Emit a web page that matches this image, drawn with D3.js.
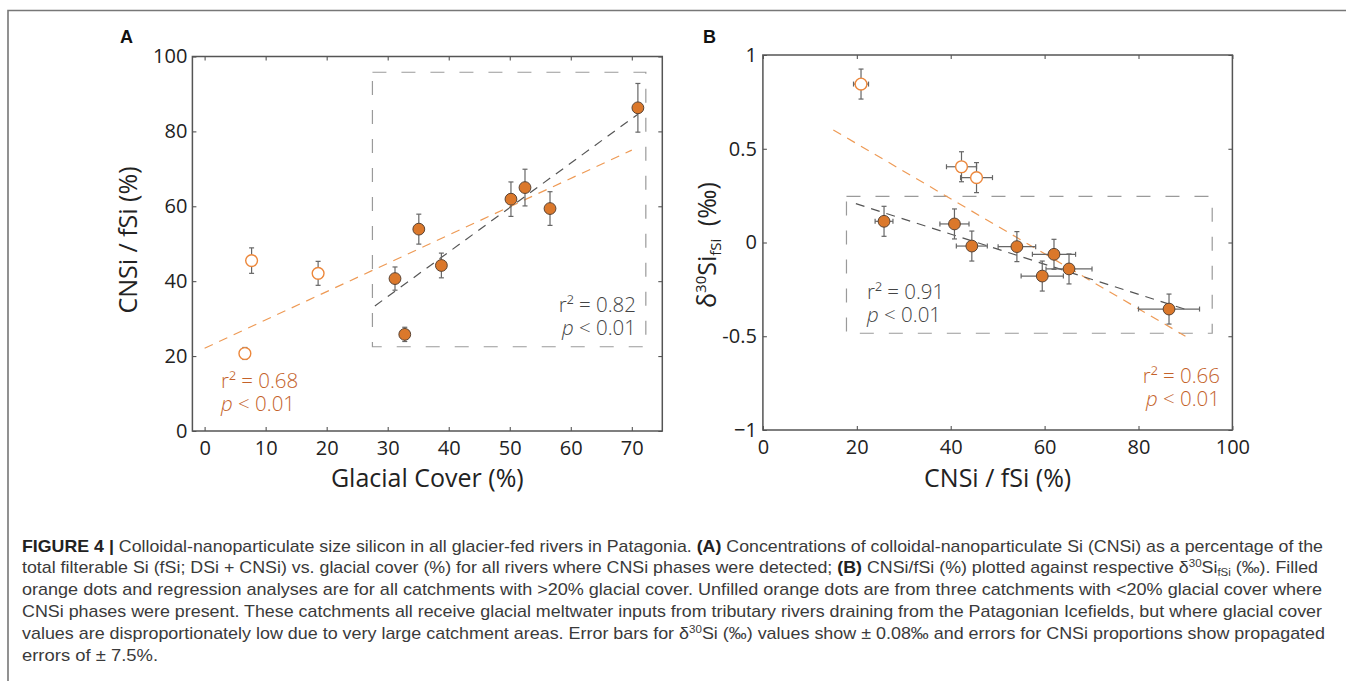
<!DOCTYPE html>
<html>
<head>
<meta charset="utf-8">
<script src="https://cdn.jsdelivr.net/npm/d3@7"></script>
<style>
  body { margin: 0; background: #fff; }
  svg { display: block; }
  .tick text { font-family: 'Open Sans', sans-serif; font-size: 20px; fill: #222; }
  .tick line { stroke: #444; stroke-width: 1; }
  .axis-title { font-family: 'Open Sans', sans-serif; font-size: 25px; fill: #222; }
  .note { font-family: 'Open Sans', sans-serif; font-size: 20.5px; font-weight: 300; }
  .caption { font-family: 'Liberation Sans Narrow', 'Liberation Sans', Arial, sans-serif; font-size: 17px; fill: #3a3a3a; }
</style>
</head>
<body>
<svg id="fig" width="1346" height="681"></svg>
<script>
// ---- panel A: glacial cover vs CNSi / fSi ----
const coverA = [7.7, 18.6, 6.6, 31.2, 32.8, 35.1, 38.8, 50.2, 52.5, 56.6, 71.0];
const cnsiA = [45.5, 42.1, 20.7, 40.7, 25.8, 53.9, 44.2, 61.9, 65.0, 59.4, 86.3];
const cnsiErrA = [3.4, 3.2, 1.6, 3.1, 1.9, 4.0, 3.3, 4.6, 4.9, 4.5, 6.5];
const filledA = [false, false, false, true, true, true, true, true, true, true, true];

const fitAllA = {x: [0, 70], y: [22.1, 75.0]};
const fitGlacA = {x: [27.9, 71.0], y: [33.4, 84.6]};
const boxA = {x: [27.5, 72.3], y: [22.5, 95.8]};
const ticksXA = [0, 10, 20, 30, 40, 50, 60, 70];
const ticksYA = [0, 20, 40, 60, 80, 100];

// ---- panel B: CNSi / fSi vs d30Si ----
const cnsiB = [20.9, 42.3, 45.5, 25.8, 40.8, 44.5, 54.1, 62.0, 59.5, 65.2, 86.5];
const cnsiErrB = [1.6, 3.2, 3.4, 1.9, 3.1, 3.3, 4.0, 4.6, 4.5, 4.9, 6.5];
const deltaB = [0.845, 0.404, 0.346, 0.113, 0.099, -0.019, -0.022, -0.063, -0.179, -0.141, -0.355];
const deltaErrB = [0.08, 0.08, 0.08, 0.08, 0.08, 0.08, 0.08, 0.08, 0.08, 0.08, 0.08];
const filledB = [false, false, false, true, true, true, true, true, true, true, true];

const fitAllB = {x: [15.0, 90.0], y: [0.60, -0.50]};
const fitGlacB = {x: [19.8, 89.8], y: [0.207, -0.355]};
const boxB = {x: [17.8, 95.7], y: [-0.484, 0.246]};
const ticksXB = [0, 20, 40, 60, 80, 100];
const ticksYB = [-1, -0.5, 0, 0.5, 1];
const tickLabelsYB = ['\u22121', '-0.5', '0', '0.5', '1'];

const orange = '#db782b', orangeText = '#c4622a', orangeLine = '#ee9a55';
const grey = '#555';

const svg = d3.select('#fig');

// outer figure frame (runs off the right and bottom)
svg.append('path')
   .attr('d', 'M8,681 L8,10.5 L1346,10.5')
   .attr('fill', 'none').attr('stroke', '#777').attr('stroke-width', 1.6);

function drawPanel(opt) {
  const {left, right, top, bottom} = opt.box;
  const x = d3.scaleLinear().domain(opt.xDomain).range([left, right]);
  const y = d3.scaleLinear().domain(opt.yDomain).range([bottom, top]);
  const g = svg.append('g');

  g.append('g').attr('transform', `translate(0,${bottom})`)
   .call(d3.axisBottom(x).tickValues(opt.xTicks).tickSize(-4).tickPadding(10).tickFormat(d3.format('d')));
  g.append('g').attr('transform', `translate(0,${top})`)
   .call(d3.axisTop(x).tickValues(opt.xTicks).tickSize(-4).tickFormat(''));
  g.append('g').attr('transform', `translate(${left},0)`)
   .call(d3.axisLeft(y).tickValues(opt.yTicks).tickSize(-4).tickPadding(opt.yPad)
     .tickFormat((d, i) => opt.yLabels ? opt.yLabels[i] : d));
  g.append('g').attr('transform', `translate(${right},0)`)
   .call(d3.axisRight(y).tickValues(opt.yTicks).tickSize(-4).tickFormat(''));
  g.selectAll('.domain').remove();

  g.append('rect')
   .attr('x', left).attr('y', top).attr('width', right - left).attr('height', bottom - top)
   .attr('fill', 'none').attr('stroke', grey).attr('stroke-width', 1.5);

  // dashed selection box
  g.append('rect')
   .attr('x', x(opt.sel.x[0])).attr('y', y(opt.sel.y[1]))
   .attr('width', x(opt.sel.x[1]) - x(opt.sel.x[0]))
   .attr('height', y(opt.sel.y[0]) - y(opt.sel.y[1]))
   .attr('fill', 'none').attr('stroke', '#9a9a9a').attr('stroke-width', 1.2)
   .attr('stroke-dasharray', '14,15');

  // regression lines
  const line = d3.line().x(d => x(d[0])).y(d => y(d[1]));
  [[opt.fitAll, orangeLine], [opt.fitGlac, '#555']].forEach(([f, c]) => {
    g.append('path')
     .attr('d', line(d3.zip(f.x, f.y)))
     .attr('fill', 'none').attr('stroke', c).attr('stroke-width', 1.2)
     .attr('stroke-dasharray', '9,7');
  });

  // error bars
  const eb = g.append('g').attr('stroke', '#666').attr('stroke-width', 1.2);
  opt.xs.forEach((xv, i) => {
    const cx = x(xv), cy = y(opt.ys[i]);
    const yLo = y(opt.ys[i] - opt.yErr[i]), yHi = y(opt.ys[i] + opt.yErr[i]);
    eb.append('line').attr('x1', cx).attr('x2', cx).attr('y1', yLo).attr('y2', yHi);
    eb.append('line').attr('x1', cx - 2.5).attr('x2', cx + 2.5).attr('y1', yLo).attr('y2', yLo);
    eb.append('line').attr('x1', cx - 2.5).attr('x2', cx + 2.5).attr('y1', yHi).attr('y2', yHi);
    if (opt.xErr) {
      const xLo = x(xv - opt.xErr[i]), xHi = x(xv + opt.xErr[i]);
      eb.append('line').attr('x1', xLo).attr('x2', xHi).attr('y1', cy).attr('y2', cy);
      eb.append('line').attr('x1', xLo).attr('x2', xLo).attr('y1', cy - 2.5).attr('y2', cy + 2.5);
      eb.append('line').attr('x1', xHi).attr('x2', xHi).attr('y1', cy - 2.5).attr('y2', cy + 2.5);
    }
  });

  // markers
  g.append('g').selectAll('circle')
   .data(d3.range(opt.xs.length))
   .join('circle')
   .attr('cx', i => x(opt.xs[i])).attr('cy', i => y(opt.ys[i])).attr('r', 5.9)
   .attr('fill', i => opt.filled[i] ? orange : '#fff')
   .attr('stroke', i => opt.filled[i] ? '#5a4333' : '#ec873b')
   .attr('stroke-width', i => opt.filled[i] ? 1 : 1.4);

  // panel letter
  svg.append('text').attr('x', opt.letterX).attr('y', 43)
     .attr('font-family', 'Liberation Sans, Arial, sans-serif').attr('font-weight', 'bold')
     .attr('font-size', 18).attr('fill', '#111').text(opt.letter);

  // axis titles
  svg.append('text').attr('class', 'axis-title')
     .attr('x', (left + right) / 2).attr('y', 487).attr('text-anchor', 'middle')
     .text(opt.xTitle);
  const yt = svg.append('text').attr('class', 'axis-title')
     .attr('text-anchor', 'middle')
     .attr('transform', `translate(${opt.yTitleX},${opt.yTitleY}) rotate(-90)`);
  opt.yTitle(yt);

  // r2 / p notes, two lines in one text element
  opt.notes.forEach(n => {
    const t = svg.append('text').attr('class', 'note').attr('fill', n.color)
       .attr('x', n.x).attr('y', n.y).attr('text-anchor', n.anchor);
    t.append('tspan').text('r\u00b2 = ' + n.r2);
    t.append('tspan').attr('x', n.x).attr('dy', 23).attr('font-style', 'italic').text('p');
    t.append('tspan').text(' < 0.01');
  });
}

drawPanel({
  box: {left: 192.4, right: 662.3, top: 56.5, bottom: 431},
  xDomain: [-2, 75], yDomain: [0, 100],
  xTicks: ticksXA, yTicks: ticksYA, yPad: 5,
  xs: coverA, ys: cnsiA, yErr: cnsiErrA, filled: filledA,
  fitAll: fitAllA, fitGlac: fitGlacA, sel: boxA,
  letter: 'A', letterX: 120,
  xTitle: 'Glacial Cover (%)',
  yTitleX: 137, yTitleY: 240,
  yTitle: t => t.text('CNSi / fSi (%)'),
  notes: [
    {x: 636, y: 312, anchor: 'end', color: '#444', r2: '0.82'},
    {x: 221, y: 388, anchor: 'start', color: orangeText, r2: '0.68'}
  ]
});

drawPanel({
  box: {left: 762.9, right: 1232.4, top: 55, bottom: 430},
  xDomain: [0, 100], yDomain: [-1, 1],
  xTicks: ticksXB, yTicks: ticksYB, yLabels: tickLabelsYB, yPad: 6,
  xs: cnsiB, ys: deltaB, yErr: deltaErrB, xErr: cnsiErrB, filled: filledB,
  fitAll: fitAllB, fitGlac: fitGlacB, sel: boxB,
  letter: 'B', letterX: 703,
  xTitle: 'CNSi / fSi (%)',
  yTitleX: 716, yTitleY: 245,
  yTitle: t => {
    t.append('tspan').text('\u03b4');
    t.append('tspan').attr('font-size', 15).attr('dy', -10).text('30');
    t.append('tspan').attr('dy', 10).text('Si');
    t.append('tspan').attr('font-size', 15).attr('dy', 5).text('fSi');
    t.append('tspan').attr('dy', -5).text('\u2002(\u2030)');
  },
  notes: [
    {x: 867, y: 299, anchor: 'start', color: '#444', r2: '0.91'},
    {x: 1220, y: 383, anchor: 'end', color: orangeText, r2: '0.66'}
  ]
});

// ---- caption ----
const captionLines = [
  [['FIGURE 4 | ', 'b'], ['Colloidal-nanoparticulate size silicon in all glacier-fed rivers in Patagonia. ', ''], ['(A)', 'b'], [' Concentrations of colloidal-nanoparticulate Si (CNSi) as a percentage of the', '']],
  [['total filterable Si (fSi; DSi + CNSi) vs. glacial cover (%) for all rivers where CNSi phases were detected; ', ''], ['(B)', 'b'], [' CNSi/fSi (%) plotted against respective \u03b4', ''], ['30', 'sup'], ['Si', ''], ['fSi', 'sub'], [' (\u2030). Filled', '']],
  [['orange dots and regression analyses are for all catchments with >20% glacial cover. Unfilled orange dots are from three catchments with <20% glacial cover where', '']],
  [['CNSi phases were present. These catchments all receive glacial meltwater inputs from tributary rivers draining from the Patagonian Icefields, but where glacial cover', '']],
  [['values are disproportionately low due to very large catchment areas. Error bars for \u03b4', ''], ['30', 'sup'], ['Si (\u2030) values show \u00b1 0.08\u2030 and errors for CNSi proportions show propagated', '']],
  [['errors of \u00b1 7.5%.', '']]
];
const captionWidths = [1301, 1296, 1300, 1300, 1303, 136];

captionLines.forEach((segs, li) => {
  const t = svg.append('text').attr('class', 'caption')
     .attr('x', 22).attr('y', 551.5 + li * 21.8)
     .attr('textLength', captionWidths[li]).attr('lengthAdjust', 'spacingAndGlyphs');
  let shift = 0;
  segs.forEach(([s, style]) => {
    const target = style === 'sup' ? -6 : style === 'sub' ? 3 : 0;
    const ts = t.append('tspan').attr('dy', target - shift).text(s);
    shift = target;
    if (style === 'b') ts.attr('font-weight', 'bold').attr('fill', '#222');
    if (style === 'sup' || style === 'sub') ts.attr('font-size', 11);
  });
});
</script>
</body>
</html>
